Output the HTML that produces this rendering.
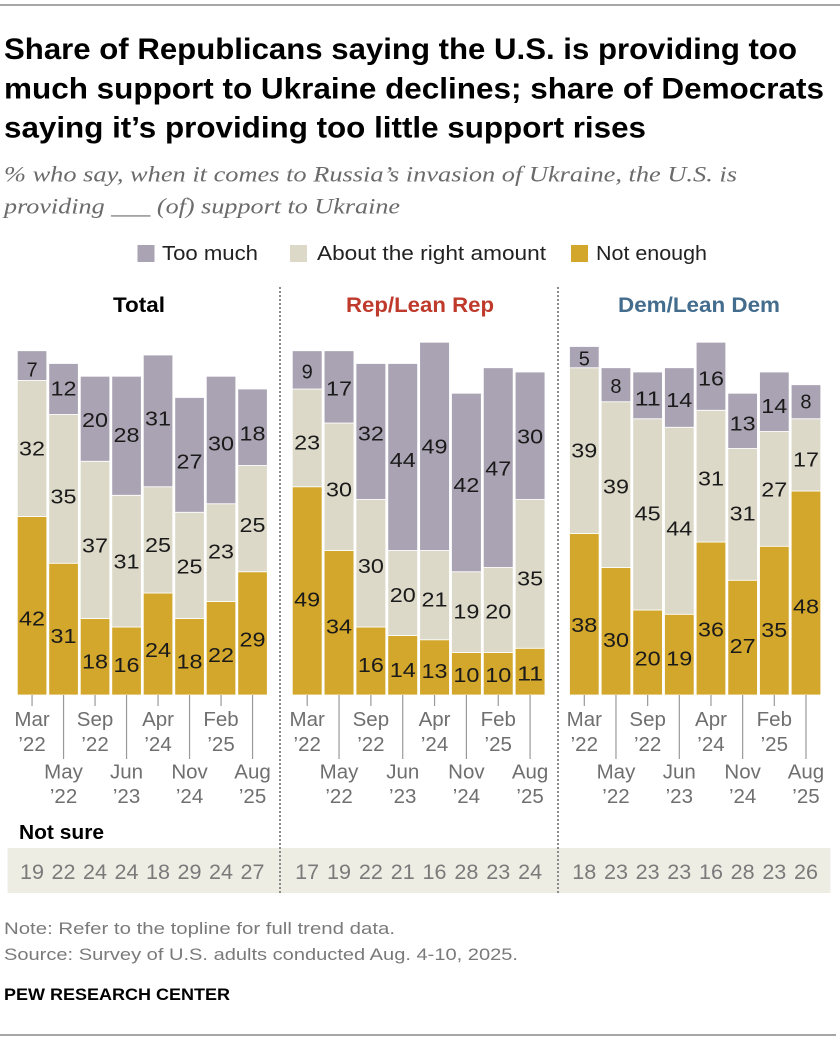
<!DOCTYPE html>
<html>
<head>
<meta charset="utf-8">
<style>
html,body{margin:0;padding:0;background:#fff;}
svg{display:block;}
.t{font-family:"Liberation Sans",sans-serif;font-weight:bold;font-size:30px;fill:#000;}
.sub{font-family:"Liberation Serif",serif;font-style:italic;font-size:22px;fill:#6b6b6b;}
.lg{font-family:"Liberation Sans",sans-serif;font-size:20px;fill:#222;}
.pt{font-family:"Liberation Sans",sans-serif;font-weight:bold;font-size:21px;text-anchor:middle;}
.n{font-family:"Liberation Sans",sans-serif;font-size:20px;fill:#1a1a1a;text-anchor:middle;}
.ax{font-family:"Liberation Sans",sans-serif;font-size:20.5px;fill:#6f6f6f;text-anchor:middle;}
.ns{font-family:"Liberation Sans",sans-serif;font-size:21.5px;fill:#7a7a7a;text-anchor:middle;}
.ft{font-family:"Liberation Sans",sans-serif;font-size:17px;fill:#7a7a7a;}
.tm{fill:#aaa3b3;}
.ab{fill:#dcd9c9;}
.ne{fill:#d3a72b;}
.tk{stroke:#999;stroke-width:1.2;}
</style>
</head>
<body>
<svg width="840" height="1040" viewBox="0 0 840 1040" xmlns="http://www.w3.org/2000/svg">
<rect x="0" y="0" width="840" height="1040" fill="#fff"/>
<rect x="0" y="4" width="840" height="2" fill="#a6a6a6"/>
<rect x="0" y="1034" width="836" height="2" fill="#a6a6a6"/>

<!-- Title -->
<text class="t" x="4" y="59" textLength="793" lengthAdjust="spacingAndGlyphs">Share of Republicans saying the U.S. is providing too</text>
<text class="t" x="4" y="98.5" textLength="820" lengthAdjust="spacingAndGlyphs">much support to Ukraine declines; share of Democrats</text>
<text class="t" x="4" y="137.5" textLength="642" lengthAdjust="spacingAndGlyphs">saying it’s providing too little support rises</text>

<!-- Subtitle -->
<text class="sub" x="4" y="181.5" textLength="733" lengthAdjust="spacingAndGlyphs">% who say, when it comes to Russia’s invasion of Ukraine, the U.S. is</text>
<text class="sub" x="4" y="213.5" textLength="396" lengthAdjust="spacingAndGlyphs">providing ___ (of) support to Ukraine</text>

<!-- Legend -->
<rect class="tm" x="137.5" y="245" width="17" height="17"/>
<text class="lg" x="162" y="260" textLength="96" lengthAdjust="spacingAndGlyphs">Too much</text>
<rect class="ab" x="290" y="245" width="17" height="17"/>
<text class="lg" x="317" y="260" textLength="229" lengthAdjust="spacingAndGlyphs">About the right amount</text>
<rect class="ne" x="571" y="245" width="17" height="17"/>
<text class="lg" x="596" y="260" textLength="111" lengthAdjust="spacingAndGlyphs">Not enough</text>

<!-- Panel titles -->
<text class="pt" x="139" y="312" fill="#000" textLength="52" lengthAdjust="spacingAndGlyphs">Total</text>
<text class="pt" x="420" y="312" fill="#bf3a2b" textLength="148" lengthAdjust="spacingAndGlyphs">Rep/Lean Rep</text>
<text class="pt" x="699" y="312" fill="#436c8d" textLength="162" lengthAdjust="spacingAndGlyphs">Dem/Lean Dem</text>

<!-- Not sure band -->
<rect x="7.5" y="848" width="823" height="45" fill="#eeede4"/>

<!-- Panel 1 bars -->
<g stroke="#fff" stroke-width="0.8">
<rect class="ne" x="17.3" y="516.5" width="29.5" height="178.5"/>
<rect class="ab" x="17.3" y="380.5" width="29.5" height="136"/>
<rect class="tm" x="17.3" y="350.75" width="29.5" height="29.75"/>

<rect class="ne" x="48.8" y="563.25" width="29.5" height="131.75"/>
<rect class="ab" x="48.8" y="414.5" width="29.5" height="148.75"/>
<rect class="tm" x="48.8" y="363.5" width="29.5" height="51"/>

<rect class="ne" x="80.3" y="618.5" width="29.5" height="76.5"/>
<rect class="ab" x="80.3" y="461.25" width="29.5" height="157.25"/>
<rect class="tm" x="80.3" y="376.25" width="29.5" height="85"/>

<rect class="ne" x="111.8" y="627" width="29.5" height="68"/>
<rect class="ab" x="111.8" y="495.25" width="29.5" height="131.75"/>
<rect class="tm" x="111.8" y="376.25" width="29.5" height="119"/>

<rect class="ne" x="143.3" y="593" width="29.5" height="102"/>
<rect class="ab" x="143.3" y="486.75" width="29.5" height="106.25"/>
<rect class="tm" x="143.3" y="355" width="29.5" height="131.75"/>

<rect class="ne" x="174.8" y="618.5" width="29.5" height="76.5"/>
<rect class="ab" x="174.8" y="512.25" width="29.5" height="106.25"/>
<rect class="tm" x="174.8" y="397.5" width="29.5" height="114.75"/>

<rect class="ne" x="206.3" y="601.5" width="29.5" height="93.5"/>
<rect class="ab" x="206.3" y="503.75" width="29.5" height="97.75"/>
<rect class="tm" x="206.3" y="376.25" width="29.5" height="127.5"/>

<rect class="ne" x="237.8" y="571.75" width="29.5" height="123.25"/>
<rect class="ab" x="237.8" y="465.5" width="29.5" height="106.25"/>
<rect class="tm" x="237.8" y="389" width="29.5" height="76.5"/>

<!-- Panel 2 bars -->
<rect class="ne" x="292.3" y="486.75" width="29.8" height="208.25"/>
<rect class="ab" x="292.3" y="389" width="29.8" height="97.75"/>
<rect class="tm" x="292.3" y="350.75" width="29.8" height="38.25"/>

<rect class="ne" x="324.14" y="550.5" width="29.8" height="144.5"/>
<rect class="ab" x="324.14" y="423" width="29.8" height="127.5"/>
<rect class="tm" x="324.14" y="350.75" width="29.8" height="72.25"/>

<rect class="ne" x="355.98" y="627" width="29.8" height="68"/>
<rect class="ab" x="355.98" y="499.5" width="29.8" height="127.5"/>
<rect class="tm" x="355.98" y="363.5" width="29.8" height="136"/>

<rect class="ne" x="387.82" y="635.5" width="29.8" height="59.5"/>
<rect class="ab" x="387.82" y="550.5" width="29.8" height="85"/>
<rect class="tm" x="387.82" y="363.5" width="29.8" height="187"/>

<rect class="ne" x="419.66" y="639.75" width="29.8" height="55.25"/>
<rect class="ab" x="419.66" y="550.5" width="29.8" height="89.25"/>
<rect class="tm" x="419.66" y="342.25" width="29.8" height="208.25"/>

<rect class="ne" x="451.5" y="652.5" width="29.8" height="42.5"/>
<rect class="ab" x="451.5" y="571.75" width="29.8" height="80.75"/>
<rect class="tm" x="451.5" y="393.25" width="29.8" height="178.5"/>

<rect class="ne" x="483.34" y="652.5" width="29.8" height="42.5"/>
<rect class="ab" x="483.34" y="567.5" width="29.8" height="85"/>
<rect class="tm" x="483.34" y="367.75" width="29.8" height="199.75"/>

<rect class="ne" x="515.18" y="648.25" width="29.8" height="46.75"/>
<rect class="ab" x="515.18" y="499.5" width="29.8" height="148.75"/>
<rect class="tm" x="515.18" y="372" width="29.8" height="127.5"/>

<!-- Panel 3 bars -->
<rect class="ne" x="569.5" y="533.5" width="29.6" height="161.5"/>
<rect class="ab" x="569.5" y="367.75" width="29.6" height="165.75"/>
<rect class="tm" x="569.5" y="346.5" width="29.6" height="21.25"/>

<rect class="ne" x="601.17" y="567.5" width="29.6" height="127.5"/>
<rect class="ab" x="601.17" y="401.75" width="29.6" height="165.75"/>
<rect class="tm" x="601.17" y="367.75" width="29.6" height="34"/>

<rect class="ne" x="632.84" y="610" width="29.6" height="85"/>
<rect class="ab" x="632.84" y="418.75" width="29.6" height="191.25"/>
<rect class="tm" x="632.84" y="372" width="29.6" height="46.75"/>

<rect class="ne" x="664.51" y="614.25" width="29.6" height="80.75"/>
<rect class="ab" x="664.51" y="427.25" width="29.6" height="187"/>
<rect class="tm" x="664.51" y="367.75" width="29.6" height="59.5"/>

<rect class="ne" x="696.18" y="542" width="29.6" height="153"/>
<rect class="ab" x="696.18" y="410.25" width="29.6" height="131.75"/>
<rect class="tm" x="696.18" y="342.25" width="29.6" height="68"/>

<rect class="ne" x="727.85" y="580.25" width="29.6" height="114.75"/>
<rect class="ab" x="727.85" y="448.5" width="29.6" height="131.75"/>
<rect class="tm" x="727.85" y="393.25" width="29.6" height="55.25"/>

<rect class="ne" x="759.52" y="546.25" width="29.6" height="148.75"/>
<rect class="ab" x="759.52" y="431.5" width="29.6" height="114.75"/>
<rect class="tm" x="759.52" y="372" width="29.6" height="59.5"/>

<rect class="ne" x="791.19" y="491" width="29.6" height="204"/>
<rect class="ab" x="791.19" y="418.75" width="29.6" height="72.25"/>
<rect class="tm" x="791.19" y="384.75" width="29.6" height="34"/>
</g>

<!-- Bar labels panel 1 -->
<g class="n">
<text x="32.05" y="376.3">7</text>
<text x="32.05" y="455.3" textLength="26" lengthAdjust="spacingAndGlyphs">32</text>
<text x="32.05" y="625.3" textLength="26" lengthAdjust="spacingAndGlyphs">42</text>
<text x="63.55" y="395.3" textLength="26" lengthAdjust="spacingAndGlyphs">12</text>
<text x="63.55" y="503.7" textLength="26" lengthAdjust="spacingAndGlyphs">35</text>
<text x="63.55" y="643" textLength="26" lengthAdjust="spacingAndGlyphs">31</text>
<text x="95.05" y="427" textLength="26" lengthAdjust="spacingAndGlyphs">20</text>
<text x="95.05" y="552.7" textLength="26" lengthAdjust="spacingAndGlyphs">37</text>
<text x="95.05" y="668.7" textLength="26" lengthAdjust="spacingAndGlyphs">18</text>
<text x="126.55" y="442" textLength="26" lengthAdjust="spacingAndGlyphs">28</text>
<text x="126.55" y="568.7" textLength="26" lengthAdjust="spacingAndGlyphs">31</text>
<text x="126.55" y="672" textLength="26" lengthAdjust="spacingAndGlyphs">16</text>
<text x="158.05" y="425.3" textLength="26" lengthAdjust="spacingAndGlyphs">31</text>
<text x="158.05" y="552" textLength="26" lengthAdjust="spacingAndGlyphs">25</text>
<text x="158.05" y="657" textLength="26" lengthAdjust="spacingAndGlyphs">24</text>
<text x="189.55" y="468.7" textLength="26" lengthAdjust="spacingAndGlyphs">27</text>
<text x="189.55" y="573.7" textLength="26" lengthAdjust="spacingAndGlyphs">25</text>
<text x="189.55" y="668.7" textLength="26" lengthAdjust="spacingAndGlyphs">18</text>
<text x="221.05" y="450.3" textLength="26" lengthAdjust="spacingAndGlyphs">30</text>
<text x="221.05" y="558.7" textLength="26" lengthAdjust="spacingAndGlyphs">23</text>
<text x="221.05" y="662" textLength="26" lengthAdjust="spacingAndGlyphs">22</text>
<text x="252.55" y="440.3" textLength="26" lengthAdjust="spacingAndGlyphs">18</text>
<text x="252.55" y="532" textLength="26" lengthAdjust="spacingAndGlyphs">25</text>
<text x="252.55" y="646.3" textLength="26" lengthAdjust="spacingAndGlyphs">29</text>

<!-- Panel 2 -->
<text x="307.2" y="378.7">9</text>
<text x="307.2" y="449.7" textLength="26" lengthAdjust="spacingAndGlyphs">23</text>
<text x="307.2" y="606.3" textLength="26" lengthAdjust="spacingAndGlyphs">49</text>
<text x="339.04" y="395.3" textLength="26" lengthAdjust="spacingAndGlyphs">17</text>
<text x="339.04" y="496.3" textLength="26" lengthAdjust="spacingAndGlyphs">30</text>
<text x="339.04" y="633.7" textLength="26" lengthAdjust="spacingAndGlyphs">34</text>
<text x="370.88" y="440.3" textLength="26" lengthAdjust="spacingAndGlyphs">32</text>
<text x="370.88" y="573" textLength="26" lengthAdjust="spacingAndGlyphs">30</text>
<text x="370.88" y="672" textLength="26" lengthAdjust="spacingAndGlyphs">16</text>
<text x="402.72" y="467" textLength="26" lengthAdjust="spacingAndGlyphs">44</text>
<text x="402.72" y="602" textLength="26" lengthAdjust="spacingAndGlyphs">20</text>
<text x="402.72" y="677" textLength="26" lengthAdjust="spacingAndGlyphs">14</text>
<text x="434.56" y="453.7" textLength="26" lengthAdjust="spacingAndGlyphs">49</text>
<text x="434.56" y="606.3" textLength="26" lengthAdjust="spacingAndGlyphs">21</text>
<text x="434.56" y="678" textLength="26" lengthAdjust="spacingAndGlyphs">13</text>
<text x="466.4" y="492" textLength="26" lengthAdjust="spacingAndGlyphs">42</text>
<text x="466.4" y="618.7" textLength="26" lengthAdjust="spacingAndGlyphs">19</text>
<text x="466.4" y="682" textLength="26" lengthAdjust="spacingAndGlyphs">10</text>
<text x="498.24" y="475.3" textLength="26" lengthAdjust="spacingAndGlyphs">47</text>
<text x="498.24" y="618.7" textLength="26" lengthAdjust="spacingAndGlyphs">20</text>
<text x="498.24" y="682" textLength="26" lengthAdjust="spacingAndGlyphs">10</text>
<text x="530.08" y="443.7" textLength="26" lengthAdjust="spacingAndGlyphs">30</text>
<text x="530.08" y="585.3" textLength="26" lengthAdjust="spacingAndGlyphs">35</text>
<text x="530.08" y="680.3" textLength="26" lengthAdjust="spacingAndGlyphs">11</text>

<!-- Panel 3 -->
<text x="584.3" y="365.3">5</text>
<text x="584.3" y="457.7" textLength="26" lengthAdjust="spacingAndGlyphs">39</text>
<text x="584.3" y="632" textLength="26" lengthAdjust="spacingAndGlyphs">38</text>
<text x="615.97" y="393">8</text>
<text x="615.97" y="493.7" textLength="26" lengthAdjust="spacingAndGlyphs">39</text>
<text x="615.97" y="647" textLength="26" lengthAdjust="spacingAndGlyphs">30</text>
<text x="647.64" y="405.3" textLength="26" lengthAdjust="spacingAndGlyphs">11</text>
<text x="647.64" y="520.3" textLength="26" lengthAdjust="spacingAndGlyphs">45</text>
<text x="647.64" y="665.3" textLength="26" lengthAdjust="spacingAndGlyphs">20</text>
<text x="679.31" y="407" textLength="26" lengthAdjust="spacingAndGlyphs">14</text>
<text x="679.31" y="535.3" textLength="26" lengthAdjust="spacingAndGlyphs">44</text>
<text x="679.31" y="665.3" textLength="26" lengthAdjust="spacingAndGlyphs">19</text>
<text x="710.98" y="385.3" textLength="26" lengthAdjust="spacingAndGlyphs">16</text>
<text x="710.98" y="485.3" textLength="26" lengthAdjust="spacingAndGlyphs">31</text>
<text x="710.98" y="636.3" textLength="26" lengthAdjust="spacingAndGlyphs">36</text>
<text x="742.65" y="430.3" textLength="26" lengthAdjust="spacingAndGlyphs">13</text>
<text x="742.65" y="520.3" textLength="26" lengthAdjust="spacingAndGlyphs">31</text>
<text x="742.65" y="653" textLength="26" lengthAdjust="spacingAndGlyphs">27</text>
<text x="774.32" y="413" textLength="26" lengthAdjust="spacingAndGlyphs">14</text>
<text x="774.32" y="496.3" textLength="26" lengthAdjust="spacingAndGlyphs">27</text>
<text x="774.32" y="637" textLength="26" lengthAdjust="spacingAndGlyphs">35</text>
<text x="805.99" y="408.7">8</text>
<text x="805.99" y="466.3" textLength="26" lengthAdjust="spacingAndGlyphs">17</text>
<text x="805.99" y="613.7" textLength="26" lengthAdjust="spacingAndGlyphs">48</text>
</g>

<!-- Ticks -->
<g class="tk">
<line x1="32.05" y1="695" x2="32.05" y2="706"/>
<line x1="63.55" y1="695" x2="63.55" y2="759"/>
<line x1="95.05" y1="695" x2="95.05" y2="706"/>
<line x1="126.55" y1="695" x2="126.55" y2="759"/>
<line x1="158.05" y1="695" x2="158.05" y2="706"/>
<line x1="189.55" y1="695" x2="189.55" y2="759"/>
<line x1="221.05" y1="695" x2="221.05" y2="706"/>
<line x1="252.55" y1="695" x2="252.55" y2="759"/>

<line x1="307.2" y1="695" x2="307.2" y2="706"/>
<line x1="339.04" y1="695" x2="339.04" y2="759"/>
<line x1="370.88" y1="695" x2="370.88" y2="706"/>
<line x1="402.72" y1="695" x2="402.72" y2="759"/>
<line x1="434.56" y1="695" x2="434.56" y2="706"/>
<line x1="466.4" y1="695" x2="466.4" y2="759"/>
<line x1="498.24" y1="695" x2="498.24" y2="706"/>
<line x1="530.08" y1="695" x2="530.08" y2="759"/>

<line x1="584.3" y1="695" x2="584.3" y2="706"/>
<line x1="615.97" y1="695" x2="615.97" y2="759"/>
<line x1="647.64" y1="695" x2="647.64" y2="706"/>
<line x1="679.31" y1="695" x2="679.31" y2="759"/>
<line x1="710.98" y1="695" x2="710.98" y2="706"/>
<line x1="742.65" y1="695" x2="742.65" y2="759"/>
<line x1="774.32" y1="695" x2="774.32" y2="706"/>
<line x1="805.99" y1="695" x2="805.99" y2="759"/>
</g>

<!-- Axis labels -->
<g class="ax">
<text x="32.05" y="726">Mar</text><text x="32.05" y="751">’22</text>
<text x="63.55" y="778.5">May</text><text x="63.55" y="803">’22</text>
<text x="95.05" y="726">Sep</text><text x="95.05" y="751">’22</text>
<text x="126.55" y="778.5">Jun</text><text x="126.55" y="803">’23</text>
<text x="158.05" y="726">Apr</text><text x="158.05" y="751">’24</text>
<text x="189.55" y="778.5">Nov</text><text x="189.55" y="803">’24</text>
<text x="221.05" y="726">Feb</text><text x="221.05" y="751">’25</text>
<text x="252.55" y="778.5">Aug</text><text x="252.55" y="803">’25</text>

<text x="307.2" y="726">Mar</text><text x="307.2" y="751">’22</text>
<text x="339.04" y="778.5">May</text><text x="339.04" y="803">’22</text>
<text x="370.88" y="726">Sep</text><text x="370.88" y="751">’22</text>
<text x="402.72" y="778.5">Jun</text><text x="402.72" y="803">’23</text>
<text x="434.56" y="726">Apr</text><text x="434.56" y="751">’24</text>
<text x="466.4" y="778.5">Nov</text><text x="466.4" y="803">’24</text>
<text x="498.24" y="726">Feb</text><text x="498.24" y="751">’25</text>
<text x="530.08" y="778.5">Aug</text><text x="530.08" y="803">’25</text>

<text x="584.3" y="726">Mar</text><text x="584.3" y="751">’22</text>
<text x="615.97" y="778.5">May</text><text x="615.97" y="803">’22</text>
<text x="647.64" y="726">Sep</text><text x="647.64" y="751">’22</text>
<text x="679.31" y="778.5">Jun</text><text x="679.31" y="803">’23</text>
<text x="710.98" y="726">Apr</text><text x="710.98" y="751">’24</text>
<text x="742.65" y="778.5">Nov</text><text x="742.65" y="803">’24</text>
<text x="774.32" y="726">Feb</text><text x="774.32" y="751">’25</text>
<text x="805.99" y="778.5">Aug</text><text x="805.99" y="803">’25</text>
</g>

<!-- Not sure -->
<text x="19" y="839" font-family="Liberation Sans, sans-serif" font-weight="bold" font-size="20" fill="#000" textLength="85" lengthAdjust="spacingAndGlyphs">Not sure</text>
<g class="ns">
<text x="32.05" y="879" textLength="24" lengthAdjust="spacingAndGlyphs">19</text>
<text x="63.55" y="879" textLength="24" lengthAdjust="spacingAndGlyphs">22</text>
<text x="95.05" y="879" textLength="24" lengthAdjust="spacingAndGlyphs">24</text>
<text x="126.55" y="879" textLength="24" lengthAdjust="spacingAndGlyphs">24</text>
<text x="158.05" y="879" textLength="24" lengthAdjust="spacingAndGlyphs">18</text>
<text x="189.55" y="879" textLength="24" lengthAdjust="spacingAndGlyphs">29</text>
<text x="221.05" y="879" textLength="24" lengthAdjust="spacingAndGlyphs">24</text>
<text x="252.55" y="879" textLength="24" lengthAdjust="spacingAndGlyphs">27</text>

<text x="307.2" y="879" textLength="24" lengthAdjust="spacingAndGlyphs">17</text>
<text x="339.04" y="879" textLength="24" lengthAdjust="spacingAndGlyphs">19</text>
<text x="370.88" y="879" textLength="24" lengthAdjust="spacingAndGlyphs">22</text>
<text x="402.72" y="879" textLength="24" lengthAdjust="spacingAndGlyphs">21</text>
<text x="434.56" y="879" textLength="24" lengthAdjust="spacingAndGlyphs">16</text>
<text x="466.4" y="879" textLength="24" lengthAdjust="spacingAndGlyphs">28</text>
<text x="498.24" y="879" textLength="24" lengthAdjust="spacingAndGlyphs">23</text>
<text x="530.08" y="879" textLength="24" lengthAdjust="spacingAndGlyphs">24</text>

<text x="584.3" y="879" textLength="24" lengthAdjust="spacingAndGlyphs">18</text>
<text x="615.97" y="879" textLength="24" lengthAdjust="spacingAndGlyphs">23</text>
<text x="647.64" y="879" textLength="24" lengthAdjust="spacingAndGlyphs">23</text>
<text x="679.31" y="879" textLength="24" lengthAdjust="spacingAndGlyphs">23</text>
<text x="710.98" y="879" textLength="24" lengthAdjust="spacingAndGlyphs">16</text>
<text x="742.65" y="879" textLength="24" lengthAdjust="spacingAndGlyphs">28</text>
<text x="774.32" y="879" textLength="24" lengthAdjust="spacingAndGlyphs">23</text>
<text x="805.99" y="879" textLength="24" lengthAdjust="spacingAndGlyphs">26</text>
</g>

<!-- Dotted separators -->
<line x1="280" y1="287" x2="280" y2="893" stroke="#8a8a8a" stroke-width="2" stroke-dasharray="2,2"/>
<line x1="558" y1="287" x2="558" y2="893" stroke="#8a8a8a" stroke-width="2" stroke-dasharray="2,2"/>

<!-- Footer -->
<text class="ft" x="4" y="934" textLength="391" lengthAdjust="spacingAndGlyphs">Note: Refer to the topline for full trend data.</text>
<text class="ft" x="4" y="960" textLength="514" lengthAdjust="spacingAndGlyphs">Source: Survey of U.S. adults conducted Aug. 4-10, 2025.</text>
<text x="4" y="1000" font-family="Liberation Sans, sans-serif" font-weight="bold" font-size="17" fill="#000" textLength="226" lengthAdjust="spacingAndGlyphs">PEW RESEARCH CENTER</text>
</svg>
</body>
</html>
